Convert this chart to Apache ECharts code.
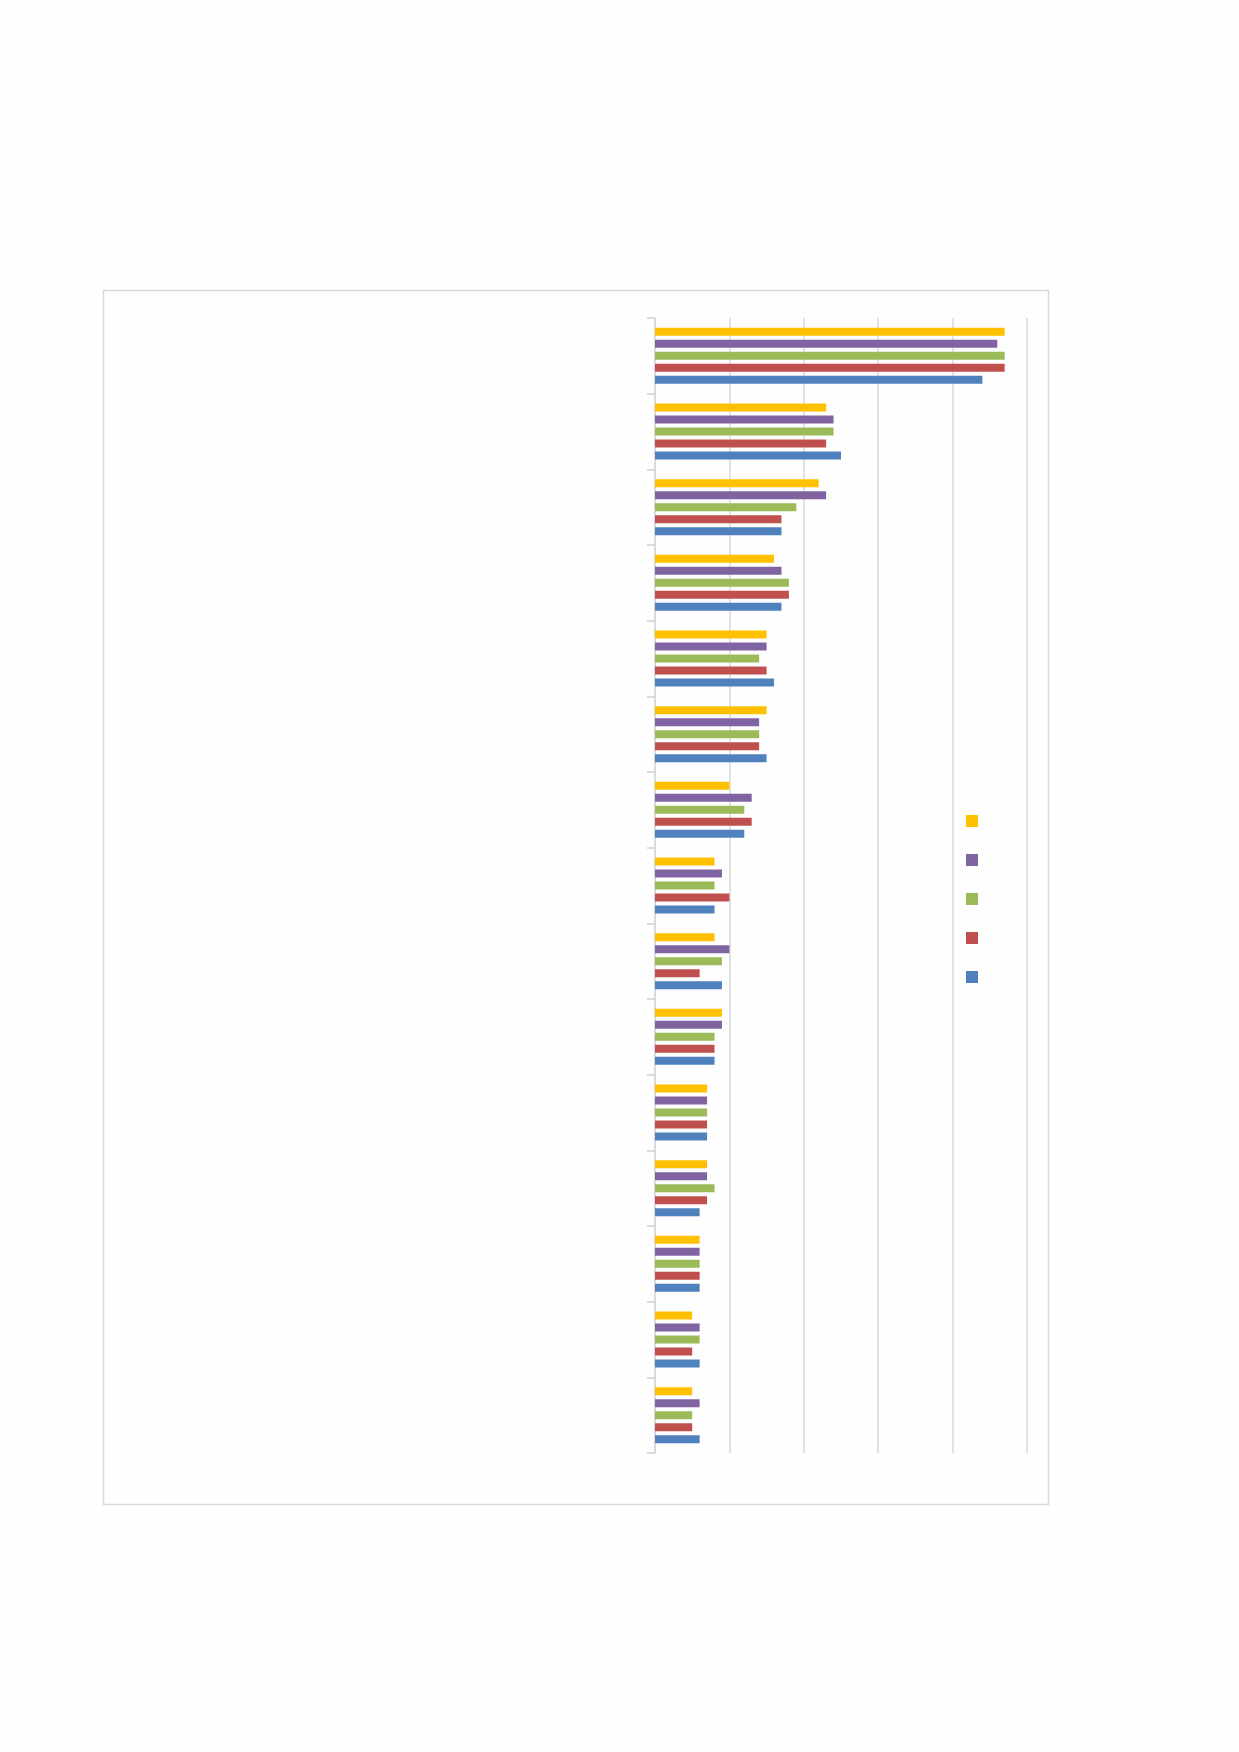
<!DOCTYPE html>
<html>
<head>
<meta charset="utf-8">
<script src="https://cdn.jsdelivr.net/npm/echarts@6/dist/echarts.min.js"></script>
<style>
  html, body { margin: 0; padding: 0; background: #fefefe; }
  #main { width: 1239px; height: 1752px; }
</style>
</head>
<body>
<div id="main"></div>
<script>
// 分组（图中无可见文字）
const categories = ['1', '2', '3', '4', '5', '6', '7', '8', '9', '10', '11', '12', '13', '14', '15'];
const seriesNames = ['S1', 'S2', 'S3', 'S4', 'S5'];
const colors = ['#FFC000', '#8064A2', '#9BBB59', '#C0504D', '#4F81BD'];

// 各系列数值（自上而下）
const yellowValues = [4.7, 2.3, 2.2, 1.6, 1.5, 1.5, 1.0, 0.8, 0.8, 0.9, 0.7, 0.7, 0.6, 0.5, 0.5];
const purpleValues = [4.6, 2.4, 2.3, 1.7, 1.5, 1.4, 1.3, 0.9, 1.0, 0.9, 0.7, 0.7, 0.6, 0.6, 0.6];
const greenValues  = [4.7, 2.4, 1.9, 1.8, 1.4, 1.4, 1.2, 0.8, 0.9, 0.8, 0.7, 0.8, 0.6, 0.6, 0.5];
const redValues    = [4.7, 2.3, 1.7, 1.8, 1.5, 1.4, 1.3, 1.0, 0.6, 0.8, 0.7, 0.7, 0.6, 0.5, 0.5];
const blueValues   = [4.4, 2.5, 1.7, 1.7, 1.6, 1.5, 1.2, 0.8, 0.9, 0.8, 0.7, 0.6, 0.6, 0.6, 0.6];

const allValues = [yellowValues, purpleValues, greenValues, redValues, blueValues];

document.addEventListener('DOMContentLoaded', () => {
    const myChart = echarts.init(document.getElementById('main'));

    const option = {
        backgroundColor: '#fefefe',
        animation: false,
        // 图表外框
        graphic: [{
            type: 'rect',
            shape: { x: 103.5, y: 290.5, width: 945, height: 1214 },
            style: { fill: 'none', stroke: '#d9d9d9', lineWidth: 1.5 },
            silent: true,
            z: -1
        }],
        grid: { left: 655, top: 318, right: 212, bottom: 299 },
        legend: {
            orient: 'vertical',
            left: 966,
            top: 815,
            padding: 0,
            itemWidth: 12,
            itemHeight: 12,
            itemGap: 27,
            icon: 'rect',
            data: seriesNames,
            formatter: () => '',
            textStyle: { fontSize: 1 }
        },
        xAxis: {
            type: 'value',
            min: 0,
            max: 5,
            interval: 1,
            axisLine: { show: false },
            axisTick: { show: false },
            axisLabel: { show: false },
            splitLine: { lineStyle: { color: '#d9d9d9', width: 1.5 } }
        },
        yAxis: {
            type: 'category',
            inverse: true,
            data: categories,
            axisLine: { show: true, lineStyle: { color: '#d9d9d9', width: 1.5 } },
            axisTick: { show: true, length: 8, lineStyle: { color: '#d0d0d0', width: 1.5 } },
            axisLabel: { show: false }
        },
        series: seriesNames.map((name, i) => ({
            name: name,
            type: 'bar',
            barWidth: 8,
            barGap: '50%',
            itemStyle: { color: colors[i] },
            data: allValues[i]
        }))
    };

    myChart.setOption(option);
});
</script>
</body>
</html>
